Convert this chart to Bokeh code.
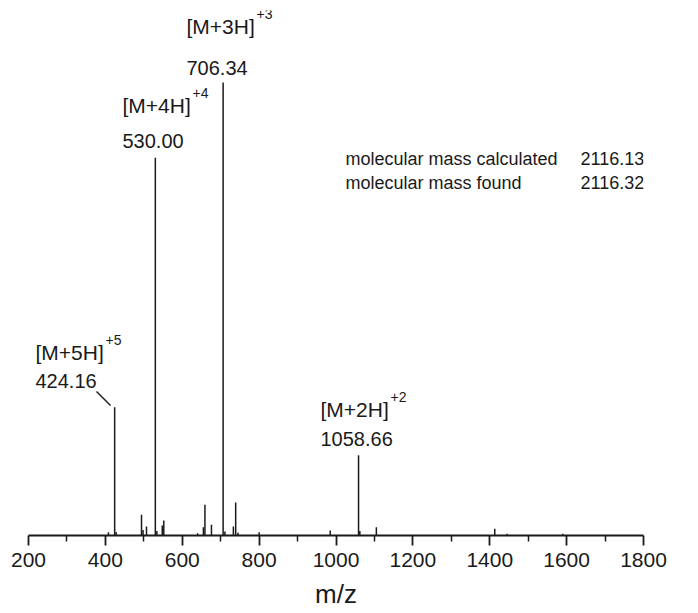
from bokeh.plotting import figure
from bokeh.models import Range1d, FixedTicker, Label, ColumnDataSource
from bokeh.embed import file_html
from bokeh.resources import INLINE

# Peak list (m/z, relative intensity)
peak_mz = [408, 424.16, 428, 494, 498, 507, 530.00, 534, 548, 552, 640, 655, 659, 676,
           706.34, 711, 733, 739, 745, 800, 985, 1058.66, 1062, 1105, 1413, 1445, 1590]
peak_int = [0.7, 28.3, 0.8, 4.6, 1.2, 2.0, 83.4, 1.0, 2.2, 3.3, 0.5, 1.8, 6.8, 2.4,
            100.0, 0.9, 2.0, 7.3, 0.6, 0.7, 1.1, 17.7, 1.0, 1.8, 1.5, 0.4, 0.4]

tick_values = [200, 400, 600, 800, 1000, 1200, 1400, 1600, 1800]
minor_values = [300, 500, 700, 900, 1100, 1300, 1500, 1700]

ion_names = ["[M+5H]", "[M+4H]", "[M+3H]", "[M+2H]"]
ion_charges = ["+5", "+4", "+3", "+2"]
ion_mz_text = ["424.16", "530.00", "706.34", "1058.66"]

mass_labels = ["molecular mass calculated", "molecular mass found"]
mass_values = ["2116.13", "2116.32"]

FONT = "Liberation Sans"
INK = "#1a1a1a"

TOP = 10
LEFT = 28
p = figure(frame_width=615, frame_height=525,
           x_range=Range1d(200, 1800), y_range=Range1d(0, 115.9),
           output_backend="svg", toolbar_location=None,
           y_axis_location=None, min_border_left=LEFT, min_border_right=39,
           min_border_top=TOP, min_border_bottom=66)
p.outline_line_color = None
p.xgrid.visible = False
p.ygrid.visible = False
p.background_fill_color = "white"

src = ColumnDataSource(dict(x=peak_mz, y=peak_int, y0=[0] * len(peak_mz)))
p.segment(x0="x", y0="y0", x1="x", y1="y", source=src, line_color=INK, line_width=1.5)

ax = p.xaxis[0]
ax.ticker = FixedTicker(ticks=tick_values, minor_ticks=minor_values)
ax.axis_line_width = 1.8
ax.axis_line_color = INK
ax.major_tick_line_width = 1.8
ax.major_tick_line_color = INK
ax.minor_tick_line_width = 1.5
ax.minor_tick_line_color = INK
ax.major_tick_in = 0
ax.major_tick_out = 10
ax.minor_tick_in = 0
ax.minor_tick_out = 6
ax.major_label_text_font = FONT
ax.major_label_text_font_size = "21px"
ax.major_label_text_color = INK
ax.major_label_standoff = 7
ax.axis_label = "m/z"
ax.axis_label_text_font = FONT
ax.axis_label_text_font_style = "normal"
ax.axis_label_text_font_size = "26px"
ax.axis_label_text_color = INK
ax.axis_label_standoff = 9


def px2mz(px):
    return 200 + (px - LEFT) / (615 / 1600)


def py2int(py):
    return (TOP + 525 - py) / (525 / 115.9)


def add_text(txt, px, py, size):
    p.add_layout(Label(x=px2mz(px), y=py2int(py), text=txt, text_font=FONT,
                       text_font_size=size, text_color=INK,
                       text_baseline="middle", text_align="left"))


# ion annotations: (name left px, name center py, number center py)
ion_pos = [(35, 352, 380), (122, 105, 140), (186, 26, 67), (320, 409, 438)]
name_w = 70
for name, ch, num, (lx, ny, my) in zip(ion_names, ion_charges, ion_mz_text, ion_pos):
    add_text(name, lx, ny, "21px")
    add_text(ch, lx + name_w, ny - 13, "14px")
    add_text(num, lx, my, "20px")

# leader line for 424.16
p.line(x=[px2mz(96), px2mz(110)], y=[py2int(391), py2int(405)], line_color=INK, line_width=1.4)

for i, (lab, val) in enumerate(zip(mass_labels, mass_values)):
    add_text(lab, 345, 158 + 24 * i, "18px")
    add_text(val, 580, 158 + 24 * i, "18px")

open("out.html", "w").write(file_html(p, INLINE))
